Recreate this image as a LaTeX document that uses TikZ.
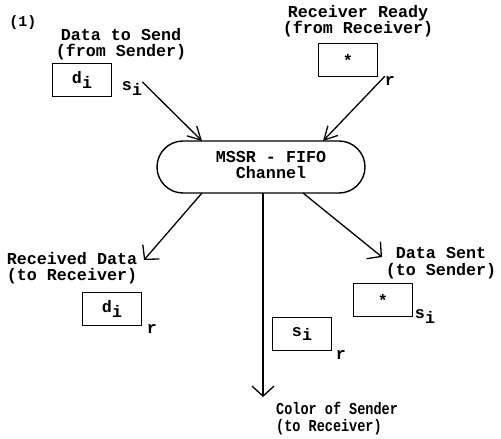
\documentclass[tikz,border=0pt]{standalone}
\usepackage{fontspec}
\usepackage{graphicx}
\setmainfont{Liberation Mono}
\usetikzlibrary{arrows.meta,shapes.misc}
\newcommand\lowi[1]{#1\raisebox{-5pt}{i}}
\begin{document}
\begin{tikzpicture}[x=1pt,y=-1pt,
  every node/.style={font=\fontsize{16.7}{16.5}\selectfont\bfseries, inner sep=0pt},
  valbox/.style={draw, line width=1.6pt, minimum width=59pt, minimum height=33pt},
  conn/.style={line width=1.3pt},
  toparrow/.style={conn, -{Straight Barb[length=13pt,width=14pt,line width=1.3pt]}},
  botarrow/.style={conn, -{Straight Barb[length=10pt,width=22pt,line width=1.3pt]}}]
\useasboundingbox (0,0) rectangle (501,439);
\fill[white] (0,0) rectangle (501,439);

\node[font=\fontsize{15}{16}\selectfont\bfseries] (num) at (23,23) {(1)};

% sender input
\node[align=center] (sendlbl) at (121,44) {Data to Send\\(from Sender)};
\node[valbox] (dsend) at (82,80) {\lowi{d}};
\node (si1) at (132,89) {\lowi{s}};

% receiver ready
\node[align=center] (readylbl) at (358,21) {Receiver Ready\\(from Receiver)};
\node[valbox] (ready) at (348,60) {*};
\node (r1) at (390,81) {r};

% channel
\node[draw, rounded rectangle, line width=1.4pt, minimum width=208pt, minimum height=52pt] (chan) at (261,167) {};
\node[align=center] (chantext) at (271,165) {MSSR - FIFO\\Channel};

\coordinate (tA) at (202,141);
\coordinate (tB) at (323,141);
\coordinate (bA) at (202,193);
\coordinate (bB) at (263,193);
\coordinate (bC) at (303,193);
\coordinate (eA) at (144,260);
\coordinate (eB) at (263,397);
\coordinate (eC) at (382,257);

\draw[toparrow] (si1.north east) -- (tA);
\draw[toparrow] (r1.north west) -- (tB);
\draw[botarrow] (bA) -- (eA);
\draw[botarrow] (bB) -- (eB);
\draw[botarrow] (bC) -- (eC);

% received data
\node[align=center] (reclbl) at (72,268) {Received Data\\(to Receiver)};
\node[valbox] (drec) at (112,309) {\lowi{d}};
\node (r2) at (152,329) {r};

% data sent
\node[align=center] (sentlbl) at (441,263) {Data Sent\\(to Sender)};
\node[valbox] (sent) at (383,300) {*};
\node (si2) at (425,317) {\lowi{s}};

% color of sender
\node[valbox] (color) at (302,334) {\lowi{s}};
\node (r3) at (341,355) {r};
\node[anchor=west] (colorlbl) at (276,419) {\scalebox{0.81}[1]{\begin{tabular}{@{}l@{}}Color of Sender\\(to Receiver)\end{tabular}}};
\end{tikzpicture}
\end{document}
